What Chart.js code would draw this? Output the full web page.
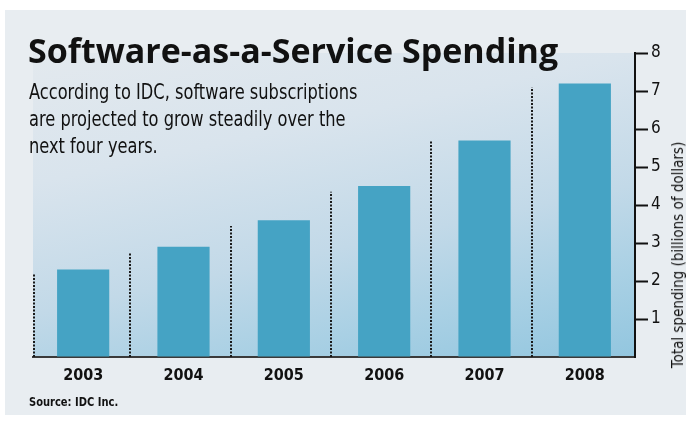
<!DOCTYPE html>
<html>
<head>
<meta charset="utf-8">
<script src="https://cdn.jsdelivr.net/npm/chart.js@4.4.0/dist/chart.umd.min.js"></script>
<style>
  html, body { margin: 0; padding: 0; background: #fff; }
  #wrap { position: relative; width: 686px; height: 423px; overflow: hidden; }
  #panel { position: absolute; left: 5px; top: 10px; width: 681px; height: 405px; background: #e8edf1; }
  #chart { position: absolute; left: 0; top: 0; }
  .txt { position: absolute; color: #111; white-space: nowrap; transform-origin: 0 0; }
  #title { left: 28px; top: 27px; font: 700 34px 'Open Sans', sans-serif; }
  #sub { left: 29px; top: 79px; font: 21px 'DejaVu Sans Condensed', sans-serif; line-height: 27px; transform: scaleX(0.86); }
  #source { left: 29px; top: 394px; font: 700 13px 'DejaVu Sans Condensed', sans-serif; transform: scaleX(0.85); }
  #ytitle { left: 678px; top: 255px; font: 15px 'DejaVu Sans Condensed', sans-serif;
            transform-origin: 50% 50%; transform: translate(-50%, -50%) rotate(-90deg); }
</style>
</head>
<body>
<div id="wrap">
  <div id="panel"></div>
  <canvas id="chart" width="686" height="423"></canvas>
  <div class="txt" id="title">Software-as-a-Service Spending</div>
  <div class="txt" id="sub">According to IDC, software subscriptions<br>are projected to grow steadily over the<br>next four years.</div>
  <div class="txt" id="source">Source: IDC Inc.</div>
  <div class="txt" id="ytitle">Total spending (billions of dollars)</div>
</div>
<script>
const years = ['2003', '2004', '2005', '2006', '2007', '2008'];
const spending = [2.3, 2.9, 3.6, 4.5, 5.7, 7.2];
// heights of the dotted dividers to the left of each year
const dividers = [2.2, 2.75, 3.45, 4.35, 5.7, 7.1];
const yTicks = [0, 1, 2, 3, 4, 5, 6, 7, 8];

const cond = "'DejaVu Sans Condensed', sans-serif";

// gradient behind the bars (mostly top-to-bottom, a little left-to-right)
const plotBg = {
  id: 'plotBg',
  beforeDraw(chart) {
    const { ctx, chartArea: a } = chart;
    const g = ctx.createLinearGradient(a.left, a.top, a.left + 90, a.top + 416);
    g.addColorStop(0, '#e3e9ee');
    g.addColorStop(0.3, '#d9e4ed');
    g.addColorStop(0.6, '#c2d9e8');
    g.addColorStop(0.8, '#a9d0e4');
    g.addColorStop(1, '#92c6df');
    ctx.save();
    ctx.fillStyle = g;
    ctx.fillRect(a.left, a.top, a.right - a.left, a.bottom - a.top);
    ctx.restore();
  }
};

// dotted dividers between years
const dottedLines = {
  id: 'dottedLines',
  beforeDatasetsDraw(chart) {
    const { ctx } = chart;
    const x = chart.scales.x, y = chart.scales.y;
    ctx.save();
    ctx.strokeStyle = '#1a1a1a';
    ctx.lineWidth = 2;
    ctx.setLineDash([2, 1.5]);
    dividers.forEach((v, i) => {
      let px = Math.round(x.getPixelForValue(i - 0.5));
      px = i === 0 ? px + 1 : px - 3;
      ctx.beginPath();
      ctx.moveTo(px, y.getPixelForValue(0));
      ctx.lineTo(px, y.getPixelForValue(v));
      ctx.stroke();
    });
    ctx.restore();
  }
};

new Chart(document.getElementById('chart'), {
  type: 'bar',
  data: {
    labels: years,
    datasets: [{
      data: spending,
      backgroundColor: '#45a3c4',
      borderWidth: 0,
      barPercentage: 0.52,
      categoryPercentage: 1
    }]
  },
  options: {
    responsive: false,
    animation: false,
    layout: { padding: { left: 33, top: 53, right: 0, bottom: 0 } },
    plugins: { legend: { display: false }, tooltip: { enabled: false } },
    scales: {
      x: {
        grid: { display: false, drawTicks: false },
        border: { display: true, color: '#3a3a3a', width: 2 },
        ticks: { color: '#111', font: { family: cond, size: 16, weight: 'bold' }, padding: 9 },
        afterFit(s) { s.height = 66; }
      },
      y: {
        position: 'right',
        min: 0,
        max: 8,
        afterBuildTicks(s) { s.ticks = yTicks.map(v => ({ value: v })); },
        grid: {
          drawOnChartArea: false,
          tickLength: 13,
          tickWidth: 2,
          color: ctx => ctx.tick && ctx.tick.value === 0 ? 'rgba(0,0,0,0)' : '#111'
        },
        border: { display: true, color: '#111', width: 2 },
        ticks: {
          color: '#111',
          padding: 3,
          font: { family: cond, size: 17 },
          callback: v => v === 0 ? '' : v
        },
        afterFit(s) { s.width = 51; }
      }
    }
  },
  plugins: [plotBg, dottedLines]
});
</script>
</body>
</html>
